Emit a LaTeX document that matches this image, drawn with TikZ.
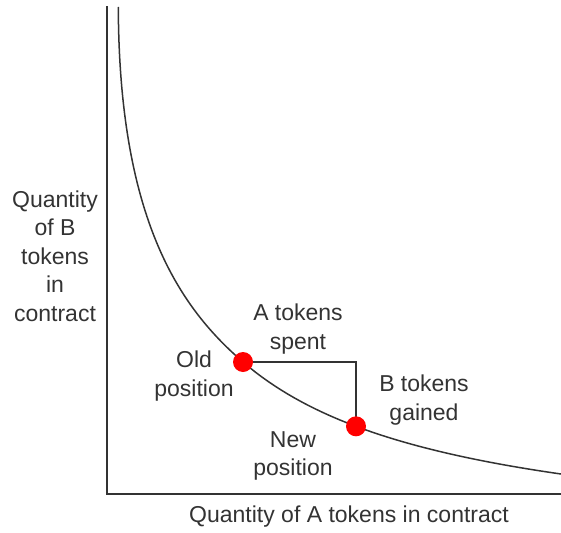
\documentclass[tikz,border=0pt]{standalone}
\usepackage{fontspec}
\setmainfont{Liberation Sans}
\usetikzlibrary{positioning}
\definecolor{inkgray}{HTML}{333333}
\definecolor{dotred}{HTML}{FF0000}

\begin{document}
\begin{tikzpicture}[x=1pt,y=-1pt,
    line width=1.5pt,
    label text/.style={text=inkgray,align=center,inner sep=0,
        font=\fontsize{23}{28.5}\selectfont},
    dot/.style={circle,fill=dotred,minimum size=20pt,inner sep=0}]
    \useasboundingbox (0,0) rectangle (561,532);
    % axes
    \coordinate (top) at (107,7);
    \coordinate (origin) at (107,494);
    \coordinate (right) at (561,494);
    \draw[inkgray,line cap=rect] (top) -- (origin) -- (right);
    % the two positions on the curve
    \coordinate (curvetop) at (118.3,7);
    \coordinate (oldpos) at (243,362);
    \coordinate (newpos) at (356,426.3);
    \draw[inkgray] (curvetop) .. controls (119,225) and (183,310) .. (oldpos)
        -- plot[domain=243:561,samples=50] (\x,{551.4-416.16/((\x-23.27)/100)});
    \draw[inkgray] (oldpos) -| (newpos);
    \node[dot] (old) at (oldpos) {};
    \node[dot] (new) at (newpos) {};
    % labels
    \node[label text] (ylabel) at (55,256) {Quantity\\of B\\tokens\\in\\contract};
    \node[label text] (xlabel) at (349,517) {Quantity of A tokens in contract};
    \node[label text] (spent) at (298,329) {A tokens\\spent};
    \node[label text] (oldlabel) at (194,376) {Old\\position};
    \node[label text] (gained) at (424,400) {B tokens\\gained};
    \node[label text] (newlabel) at (293,456) {New\\position};
\end{tikzpicture}
\end{document}
